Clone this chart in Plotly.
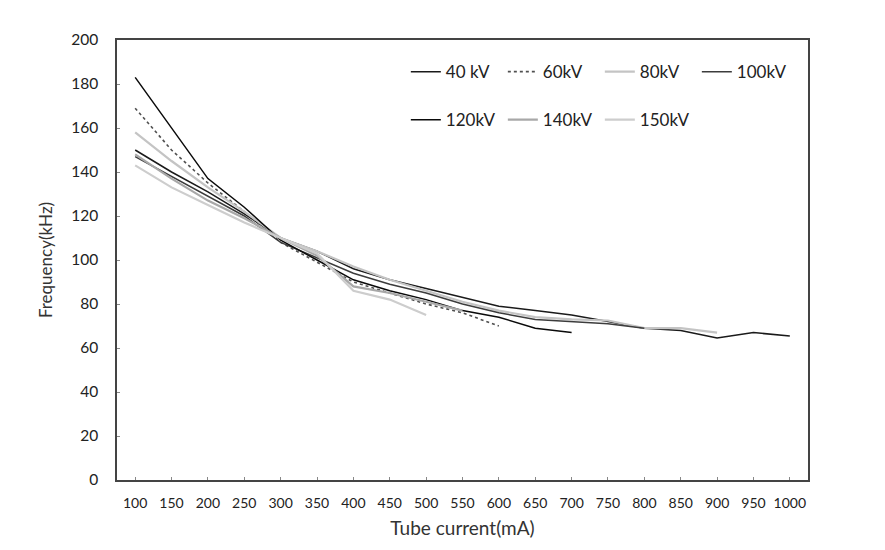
import plotly.graph_objects as go

currents = [100, 150, 200, 250, 300, 350, 400, 450, 500, 550, 600, 650, 700, 750, 800, 850, 900, 950, 1000]
cats = [str(c) for c in currents]

kv40 = [150, 140, 131, 121, 110, 104, 96, 91, 87, 83, 79, 77, 75, 72, 69, 68, 64.5, 67, 65.5]
kv60 = [169, 150, 135, 122, 108, 99, 90, 85, 80, 76, 70]
kv80 = [158, 145, 133, 122, 110, 104, 97, 91, 86, 81, 77, 74, 73, 72.5, 69, 69, 67]
kv100 = [147, 138, 129, 120, 108, 101, 94, 89, 85, 80, 76, 73, 72, 71, 69]
kv120 = [183, 160, 137, 124, 109, 100, 91, 86, 82, 77, 74, 69, 67]
kv140 = [148, 137, 127, 119, 110, 102, 88, 85, 81, 77]
kv150 = [143, 133, 125, 117, 110, 103, 86, 82, 75]

series = [
    ("40 kV", kv40, "#1a1a1a", "solid", 1.5, "legend"),
    ("60kV", kv60, "#505050", "dot", 1.6, "legend"),
    ("80kV", kv80, "#c4c4c4", "solid", 2.2, "legend"),
    ("100kV", kv100, "#3c3c3c", "solid", 1.5, "legend"),
    ("120kV", kv120, "#0a0a0a", "solid", 1.5, "legend2"),
    ("140kV", kv140, "#a8a8a8", "solid", 2.2, "legend2"),
    ("150kV", kv150, "#cdcdcd", "solid", 2.2, "legend2"),
]

fig = go.Figure()
for name, vals, col, dash, w, lg in series:
    fig.add_trace(go.Scatter(
        x=cats[:len(vals)], y=vals, mode="lines", name=name,
        line=dict(color=col, dash=dash, width=w), legend=lg,
    ))

font = "Lato, 'Open Sans', sans-serif"
leg_common = dict(orientation="h", xanchor="left", yanchor="middle",
                  entrywidth=52, entrywidthmode="pixels", itemwidth=30,
                  font=dict(size=17, family=font, color="#222"), bgcolor="rgba(0,0,0,0)")
fig.update_layout(
    width=885, height=550,
    margin=dict(l=117, r=77, t=40, b=70),
    paper_bgcolor="white", plot_bgcolor="white",
    font=dict(family=font, color="#222", size=14),
    legend=dict(x=0.418, y=0.927, **leg_common),
    legend2=dict(x=0.418, y=0.818, **leg_common),
    xaxis=dict(
        type="category", categoryorder="array", categoryarray=cats,
        range=[-0.5, 18.5], showgrid=False, showline=True, mirror=True,
        linecolor="#444", linewidth=1.5, ticks="inside", ticklen=3, tickcolor="#888",
        tickfont=dict(size=14, family=font, color="#222"), ticklabelstandoff=9,
        title=dict(text="Tube current(mA)", font=dict(size=19, family=font, color="#333"), standoff=12),
    ),
    yaxis=dict(
        range=[0, 200], dtick=20, showgrid=False, showline=True, mirror=True,
        linecolor="#444", linewidth=1.5, ticks="inside", ticklen=3, tickcolor="#888",
        tickfont=dict(size=15.5, family=font, color="#222"), ticklabelstandoff=14,
        title=dict(text="Frequency(kHz)", font=dict(size=17, family=font, color="#333"), standoff=14),
        zeroline=False,
    ),
)

fig.write_html("out.html")
